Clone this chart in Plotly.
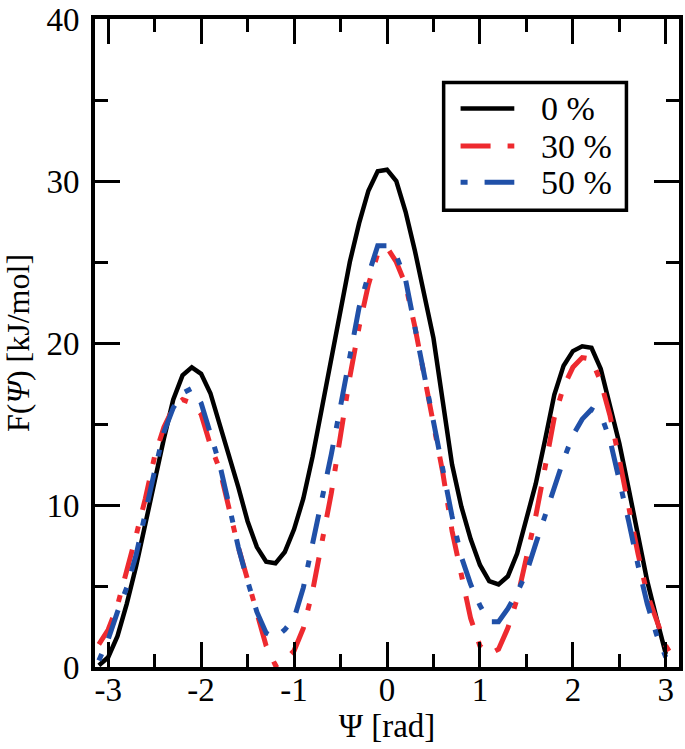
import plotly.graph_objects as go

psi = [-3.1, -3.0, -2.9, -2.8, -2.7, -2.6, -2.5, -2.4, -2.3, -2.2, -2.1, -2.0,
       -1.9, -1.8, -1.7, -1.6, -1.5, -1.4, -1.3, -1.2, -1.1, -1.0,
       -0.9, -0.8, -0.7, -0.6, -0.5, -0.4, -0.3, -0.2, -0.1, 0.0,
       0.1, 0.2, 0.3, 0.4, 0.5, 0.6, 0.7, 0.8, 0.9, 1.0,
       1.1, 1.2, 1.3, 1.4, 1.5, 1.6, 1.7, 1.8, 1.9, 2.0,
       2.1, 2.2, 2.3, 2.4, 2.5, 2.6, 2.7, 2.8, 2.9, 3.0, 3.1]

f_0 = [0.1, 0.6, 1.9, 3.9, 6.2, 8.8, 11.7, 14.1, 16.5, 18.0, 18.5, 18.1,
       16.9, 15.0, 13.2, 11.1, 9.0, 7.4, 6.5, 6.4, 7.1, 8.5,
       10.4, 13.0, 16.0, 19.0, 21.8, 25.0, 27.4, 29.4, 30.6, 30.7,
       30.0, 28.1, 25.7, 23.0, 20.3, 16.4, 12.5, 9.9, 7.9, 6.3,
       5.3, 5.1, 5.6, 7.0, 9.2, 11.3, 14.0, 16.8, 18.6, 19.5,
       19.8, 19.7, 18.4, 16.2, 13.8, 11.0, 8.2, 5.3, 3.0, 0.8, None]

f_30 = [1.4, 2.3, 3.8, 5.9, 8.1, 10.4, 13.0, 14.8, 16.0, 16.5, 16.3, 15.6,
        13.7, 12.2, 9.8, 7.4, 5.4, 3.3, 1.3, 0.1, 0.4, 1.0,
        2.4, 4.7, 7.8, 10.7, 14.3, 17.9, 21.0, 23.6, 25.5, 25.9,
        25.0, 23.6, 21.0, 17.9, 14.9, 12.0, 8.4, 5.5, 3.0, 1.3,
        0.8, 1.1, 2.4, 4.2, 6.7, 9.3, 12.3, 15.4, 17.3, 18.5,
        19.1, 19.0, 17.6, 15.5, 12.8, 9.8, 7.0, 4.5, 2.8, 1.3, 0.4]

f_50 = [0.4, 1.7, 3.4, 4.9, 6.9, 9.6, 12.1, 14.5, 16.0, 16.9, 17.2, 16.3,
        14.5, 12.5, 10.0, 7.4, 5.3, 3.4, 2.1, 1.8, 2.3, 3.0,
        4.9, 7.6, 10.3, 13.1, 16.1, 19.3, 22.2, 24.2, 26.0, 26.0,
        25.4, 23.9, 21.0, 18.2, 15.3, 12.1, 9.3, 6.8, 5.1, 3.8,
        2.8, 2.8, 3.6, 4.6, 5.8, 7.6, 9.3, 11.2, 12.8, 14.3,
        15.3, 15.9, 15.6, 14.0, 11.6, 9.0, 6.3, 3.9, 2.0, 0.6, None]

series_names = ["0 %", "30 %", "50 %"]
series_values = [f_0, f_30, f_50]
x_tick_vals = [-3, -2, -1, 0, 1, 2, 3]
x_tick_text = ["-3", "-2", "-1", "0", "1", "2", "3"]
y_tick_vals = [0, 10, 20, 30, 40]

FONT = "Liberation Serif"
colors = ["#000000", "#EE2A2F", "#2050A8"]
dashes = ["solid", "30px,17px,7px,17px", "7px,17px,30px,17px"]
widths = [4.5, 5, 5]

fig = go.Figure()
for name, vals, c, d, w in zip(series_names, series_values, colors, dashes, widths):
    fig.add_trace(go.Scatter(x=psi, y=vals, mode="lines", name=name,
                             line=dict(color=c, width=w, dash=d), showlegend=False))

axis_common = dict(
    showline=True, linecolor="black", linewidth=4, mirror="allticks",
    ticks="inside", ticklen=25, tickwidth=3, tickcolor="black",
    showgrid=False, zeroline=False, ticklabeloverflow="allow",
    tickfont=dict(family=FONT, size=33, color="black"),
)

fig.update_xaxes(
    range=[-3.1416, 3.1416], tickvals=x_tick_vals, ticktext=x_tick_text,
    ticklabelstandoff=-10,
    minor=dict(ticks="inside", ticklen=13, tickwidth=3, tickcolor="black", dtick=0.5, tick0=0, showgrid=False),
    title=dict(text="Ψ [rad]", font=dict(family=FONT, size=33, color="black"), standoff=0),
    **axis_common,
)
fig.update_yaxes(
    range=[0, 40], tickvals=y_tick_vals,
    ticklabelstandoff=5,
    minor=dict(ticks="inside", ticklen=13, tickwidth=3, tickcolor="black", dtick=5, tick0=0, showgrid=False),
    title=dict(text="F(<i>Ψ</i>) [kJ/mol]", font=dict(family=FONT, size=32, color="black"), standoff=10),
    **axis_common,
)

# hand-drawn legend box (paper coordinates)
leg_x0, leg_x1, leg_y0, leg_y1 = 0.597, 0.910, 0.705, 0.902
row_y = [0.862, 0.804, 0.748]
sample_x0, sample_x1, text_x = 0.626, 0.718, 0.760

shapes = [dict(type="rect", xref="paper", yref="paper", x0=leg_x0, x1=leg_x1, y0=leg_y0, y1=leg_y1,
               line=dict(color="black", width=3.5), fillcolor="white", layer="above")]
annotations = []
for name, c, d, w, ry in zip(series_names, colors, dashes, widths, row_y):
    shapes.append(dict(type="line", xref="paper", yref="paper", x0=sample_x0, x1=sample_x1, y0=ry, y1=ry,
                       line=dict(color=c, width=w, dash=d), layer="above"))
    annotations.append(dict(xref="paper", yref="paper", x=text_x, y=ry, text=name, showarrow=False,
                            xanchor="left", yanchor="middle",
                            font=dict(family=FONT, size=34, color="black")))

fig.update_layout(
    width=685, height=749,
    margin=dict(l=95, r=2, t=13, b=82),
    paper_bgcolor="white", plot_bgcolor="white",
    shapes=shapes, annotations=annotations,
)

fig.write_html("out.html", config={"displayModeBar": False},
               post_script="document.body.style.margin='0px';")
